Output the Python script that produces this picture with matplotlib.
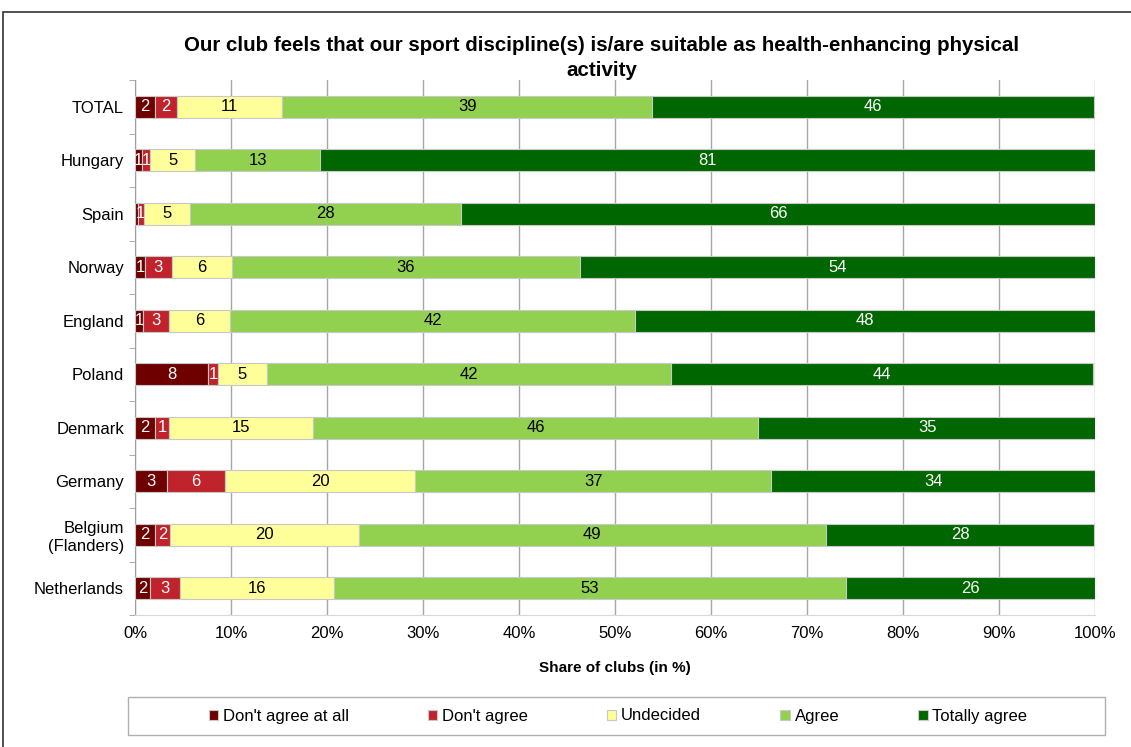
import numpy as np
import matplotlib
matplotlib.use("Agg")
import matplotlib.pyplot as plt
from matplotlib.patches import Rectangle

plt.rcParams['font.family'] = ['Liberation Sans', 'DejaVu Sans']

# data (share of clubs in %)
countries = ['TOTAL', 'Hungary', 'Spain', 'Norway', 'England', 'Poland',
             'Denmark', 'Germany', 'Belgium\n(Flanders)', 'Netherlands']
dont_agree_at_all = [2.1, 0.75, 0.3, 1.04, 0.87, 7.6, 2.08, 3.3, 2.08, 1.6]
dont_agree = [2.3, 0.85, 0.6, 2.78, 2.7, 1.04, 1.46, 6.1, 1.56, 3.1]
undecided = [10.9, 4.7, 4.8, 6.25, 6.35, 5.1, 15.0, 19.8, 19.7, 16.0]
agree = [38.6, 13.0, 28.3, 36.3, 42.2, 42.05, 46.4, 37.1, 48.6, 53.4]
totally_agree = [46.0, 80.7, 66.0, 53.6, 47.9, 44.0, 35.2, 33.7, 28.0, 25.9]

series = ["Don't agree at all", "Don't agree", "Undecided", "Agree", "Totally agree"]
values = [dont_agree_at_all, dont_agree, undecided, agree, totally_agree]
colors = ['#6e0000', '#c0232b', '#ffff99', '#92d050', '#006600']
text_colors = ['white', 'white', 'black', 'black', 'white']

fig = plt.figure(figsize=(11.31, 7.47), dpi=100)
ax = fig.add_axes([135 / 1131, 1 - 615 / 747, 960 / 1131, 535 / 747])

y = np.arange(len(countries))
left = np.zeros(len(countries))
for name, vals, col, tc in zip(series, values, colors, text_colors):
    vals = np.array(vals)
    bars = ax.barh(y, vals, left=left, height=0.42, color=col,
                   edgecolor='#c8c8c8', linewidth=0.8, label=name, zorder=3)
    for b, v in zip(bars, vals):
        if round(v) == 0:
            continue
        ax.text(b.get_x() + b.get_width() / 2, b.get_y() + b.get_height() / 2,
                str(int(round(v))), ha='center', va='center', color=tc,
                fontsize=12, zorder=4)
    left += vals

ax.set_xlim(0, 100)
ax.set_ylim(len(countries) - 0.5, -0.5)
ax.set_yticks(y)
ax.set_yticklabels(countries, fontsize=12)
ax.set_yticks(np.arange(len(countries) + 1) - 0.5, minor=True)
ax.tick_params(axis='y', which='major', length=0, pad=8)
ax.tick_params(axis='y', which='minor', length=4, color='#a0a0a0')
ax.set_xticks(np.arange(0, 101, 10))
ax.set_xticklabels([f'{v}%' for v in range(0, 101, 10)], fontsize=12)
ax.tick_params(axis='x', length=0, pad=8)
ax.grid(axis='x', color='#a6a6a6', linewidth=1, zorder=0)

for s in ['top', 'right']:
    ax.spines[s].set_visible(False)
ax.spines['left'].set_color('#a0a0a0')
ax.spines['bottom'].set_color('#d9d9d9')

ax.set_xlabel('Share of clubs (in %)', fontsize=11, fontweight='bold', labelpad=14)
fig.text(0.532, 1 - 58 / 747,
         'Our club feels that our sport discipline(s) is/are suitable as health-enhancing physical\nactivity',
         ha='center', va='center', fontsize=14.8, fontweight='bold', linespacing=1.4)

# outer frame and legend box
fig.add_artist(Rectangle((3 / 1131, -0.02), 1.1, 1 - 12 / 747 + 0.02,
                         transform=fig.transFigure, fill=False,
                         edgecolor='#333333', linewidth=1.2))
fig.add_artist(Rectangle((128 / 1131, 1 - 735 / 747), 977 / 1131, 38 / 747,
                         transform=fig.transFigure, fill=False,
                         edgecolor='#b0b0b0', linewidth=1))
fig.legend(loc='center', bbox_to_anchor=(618 / 1131, 1 - 716 / 747), ncol=5,
           frameon=False, fontsize=12, handlelength=0.55, handleheight=0.55,
           handletextpad=0.3, columnspacing=4.75)

fig.savefig('out.png', dpi=100)
